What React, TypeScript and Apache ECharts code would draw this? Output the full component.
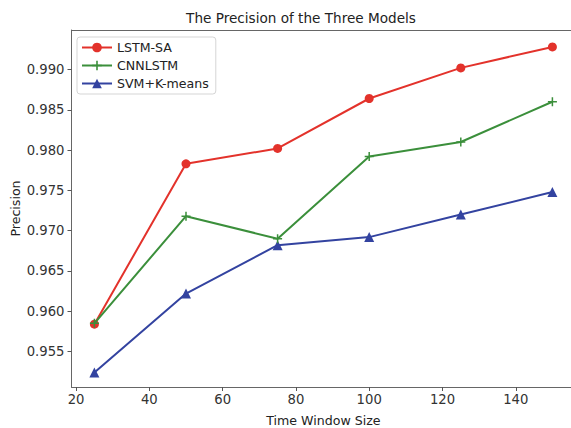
import React, { useEffect, useRef } from "react";
import * as echarts from "echarts";

const windowSizes = [25, 50, 75, 100, 125, 150];
const lstmSA = [0.9584, 0.9783, 0.9802, 0.9864, 0.9902, 0.9928];
const cnnLstm = [0.9585, 0.9718, 0.9690, 0.9792, 0.9810, 0.9860];
const svmKmeans = [0.9524, 0.9622, 0.9682, 0.9692, 0.9720, 0.9748];
const xTicks = [20, 40, 60, 80, 100, 120, 140];
const yTicks = [0.955, 0.96, 0.965, 0.97, 0.975, 0.98, 0.985, 0.99];

const plusPath = "path://M5,0 L7,0 L7,5 L12,5 L12,7 L7,7 L7,12 L5,12 L5,7 L0,7 L0,5 L5,5 Z";

export default function App() {
  const ref = useRef<HTMLDivElement>(null);
  useEffect(() => {
    const chart = echarts.init(ref.current!, null, { renderer: "svg" });
    const font = "DejaVu Sans";
    const mk = (arr: number[]) => windowSizes.map((x, i) => [x, arr[i]]);
    chart.setOption({
      animation: false,
      backgroundColor: "#fff",
      textStyle: { fontFamily: font },
      title: {
        text: "The Precision of the Three Models",
        left: 296,
        top: 6,
        textAlign: "center",
        textStyle: { fontFamily: font, fontSize: 13.6, fontWeight: "normal", color: "#222" },
      },
      grid: {
        left: 71.5,
        right: -4.3,
        top: 30,
        bottom: 41,
        show: false,
        containLabel: false,
        outerBoundsMode: "none",
      },
      legend: {
        orient: "vertical",
        left: 77,
        top: 37,
        padding: [4, 7, 4, 4],
        itemGap: 5,
        itemWidth: 30,
        itemHeight: 12,
        backgroundColor: "#fff",
        borderColor: "#d5d5d5",
        borderWidth: 1,
        borderRadius: 3,
        textStyle: { fontFamily: font, fontSize: 12.6, color: "#222" },
        data: ["LSTM-SA", "CNNLSTM", "SVM+K-means"],
      },
      xAxis: [
        {
          type: "value",
          min: 18.75,
          max: 156.25,
          splitLine: { show: false },
          axisLine: { show: true, lineStyle: { color: "#666", width: 1 } },
          axisTick: { show: true, length: 4, lineStyle: { color: "#555" }, customValues: xTicks },
          axisLabel: { customValues: xTicks, color: "#333", fontSize: 13.2, fontFamily: font, margin: 6 },
          name: "Time Window Size",
          nameLocation: "middle",
          nameGap: 27,
          nameMoveOverlap: false,
          nameTextStyle: { fontFamily: font, fontSize: 12.6, color: "#222" },
        },
        {
          type: "value",
          position: "top",
          min: 18.75,
          max: 156.25,
          splitLine: { show: false },
          axisLine: { show: true, lineStyle: { color: "#666", width: 1 } },
          axisTick: { show: false },
          axisLabel: { show: false },
        },
      ],
      yAxis: {
        type: "value",
        min: 0.9506,
        max: 0.9949,
        splitLine: { show: false },
        axisLine: { show: true, lineStyle: { color: "#666", width: 1 } },
        axisTick: { show: true, length: 4, lineStyle: { color: "#555" }, customValues: yTicks },
        axisLabel: {
          customValues: yTicks,
          color: "#333",
          fontSize: 13.2,
          fontFamily: font,
          margin: 7,
          formatter: (v: number) => v.toFixed(3),
        },
        name: "Precision",
        nameLocation: "middle",
        nameGap: 50,
        nameMoveOverlap: false,
        nameTextStyle: { fontFamily: font, fontSize: 12.6, color: "#222" },
      },
      series: [
        {
          name: "LSTM-SA",
          type: "line",
          data: mk(lstmSA),
          symbol: "circle",
          symbolSize: 9,
          color: "#e3322b",
          lineStyle: { width: 2, color: "#e3322b" },
          itemStyle: { color: "#e3322b" },
          z: 3,
        },
        {
          name: "CNNLSTM",
          type: "line",
          data: mk(cnnLstm),
          symbol: plusPath,
          symbolSize: 9,
          color: "#3b8f3b",
          lineStyle: { width: 2, color: "#3b8f3b" },
          itemStyle: { color: "#3b8f3b" },
          z: 4,
        },
        {
          name: "SVM+K-means",
          type: "line",
          data: mk(svmKmeans),
          symbol: "triangle",
          symbolSize: 10,
          color: "#3343a0",
          lineStyle: { width: 2, color: "#3343a0" },
          itemStyle: { color: "#3343a0" },
          z: 2,
        },
      ],
    });
    return () => chart.dispose();
  }, []);
  return <div ref={ref} style={{ width: 571, height: 428, position: "absolute", left: 0, top: 0 }} />;
}
